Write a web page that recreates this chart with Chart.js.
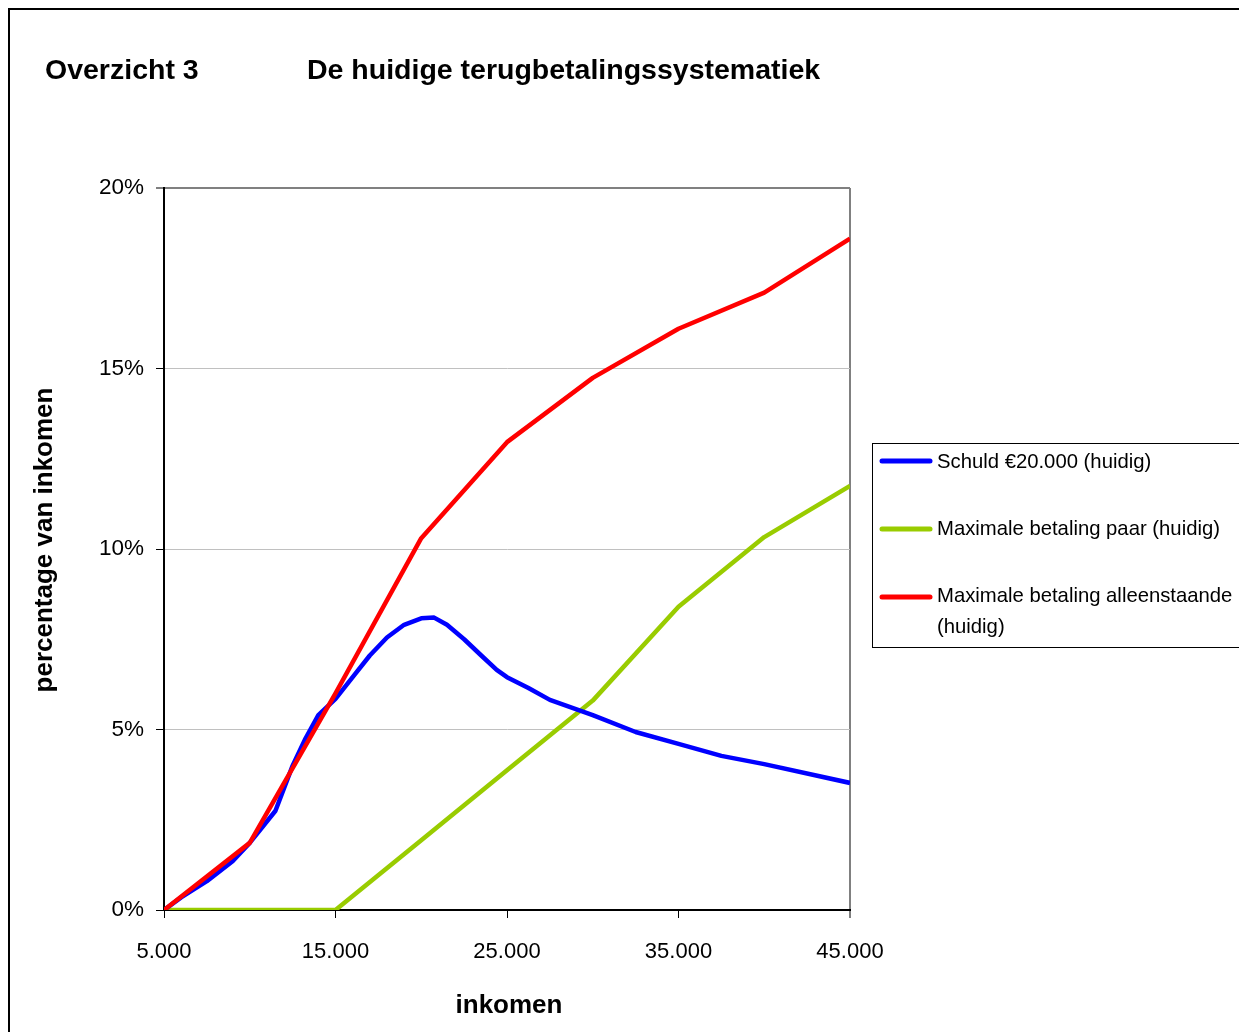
<!DOCTYPE html>
<html lang="nl">
<head>
  <meta charset="UTF-8">
  <title>Overzicht 3</title>
  <script src="https://cdn.jsdelivr.net/npm/chart.js"></script>
  <style>
    body {
      margin: 0;
      background: #fff;
      overflow: hidden;
    }
    canvas {
      display: block;
    }
  </style>
</head>
<body>
  <canvas id="chart" width="1239" height="1032"></canvas>

  <script>
    // inkomen (x) en percentage van inkomen (y) per reeks
    const schuldInkomen = [5000, 6000, 7500, 9000, 10000, 11500, 12500, 13250, 14000, 15000, 16000, 17000, 18000, 19000, 20000, 20750,
      21500, 22500, 23500, 24400, 25000, 26250, 27500, 30000, 32500, 35000, 37500, 40000, 45000];
    const schuldPct = [0, 0.35, 0.8, 1.35, 1.86, 2.75, 4.0, 4.75, 5.4, 5.85, 6.45, 7.05, 7.55, 7.9, 8.08, 8.1,
      7.9, 7.5, 7.05, 6.65, 6.45, 6.15, 5.82, 5.4, 4.93, 4.6, 4.27, 4.04, 3.52];

    const maxInkomen = [5000, 10000, 15000, 20000, 25000, 30000, 35000, 40000, 45000];
    const paarPct = [0, 0, 0, 1.93, 3.87, 5.8, 8.4, 10.33, 11.75];
    const alleenPct = [0, 1.86, 6.0, 10.3, 12.96, 14.74, 16.1, 17.1, 18.6];

    const seriesLabels = ['Schuld €20.000 (huidig)', 'Maximale betaling paar (huidig)', 'Maximale betaling alleenstaande (huidig)'];
    const seriesColors = ['#0000ff', '#99cc00', '#ff0000'];

    const xTicks = [5000, 15000, 25000, 35000, 45000];
    const yTicks = [0, 5, 10, 15, 20];

    const FONT = "'Liberation Sans', Arial, sans-serif";
    Chart.defaults.font.family = FONT;
    Chart.defaults.color = '#000';

    const toPoints = (xs, ys) => xs.map((x, i) => ({ x: x, y: ys[i] }));
    const fmtThousands = v => String(v).replace(/\B(?=(\d{3})+(?!\d))/g, '.');

    // frame, titles, axis titles and legend
    const decorations = {
      id: 'decorations',
      beforeDraw(chart) {
        const c = chart.ctx;
        c.save();
        c.fillStyle = '#fff';
        c.fillRect(0, 0, chart.width, chart.height);
        c.strokeStyle = '#000';
        c.lineWidth = 2;
        c.strokeRect(9, 9, 1400, 1200);
        c.restore();
      },
      afterDraw(chart) {
        const c = chart.ctx;
        c.save();
        c.fillStyle = '#000';
        c.textBaseline = 'middle';

        c.font = 'bold 28.5px ' + FONT;
        c.textAlign = 'left';
        c.fillText('Overzicht 3', 45, 71);
        c.fillText('De huidige terugbetalingssystematiek', 307, 71);

        c.font = 'bold 26px ' + FONT;
        c.textAlign = 'center';
        c.fillText('inkomen', 509, 1006);
        c.save();
        c.translate(45, 540);
        c.rotate(-Math.PI / 2);
        c.fillText('percentage van inkomen', 0, 0);
        c.restore();

        // legend box
        c.strokeStyle = '#000';
        c.lineWidth = 1;
        c.strokeRect(872.5, 443.5, 500, 204);
        c.font = '20.3px ' + FONT;
        c.textAlign = 'left';
        const rows = [461, 529, 597];
        rows.forEach((y, i) => {
          c.strokeStyle = seriesColors[i];
          c.lineWidth = 5;
          c.lineCap = 'round';
          c.beginPath();
          c.moveTo(882, y);
          c.lineTo(930, y);
          c.stroke();
        });
        c.fillText(seriesLabels[0], 937, 462);
        c.fillText(seriesLabels[1], 937, 529);
        c.fillText('Maximale betaling alleenstaande', 937, 596);
        c.fillText('(huidig)', 937, 627);
        c.restore();
      }
    };

    const ctx = document.getElementById('chart').getContext('2d');
    new Chart(ctx, {
      type: 'line',
      data: {
        datasets: [
          {
            label: seriesLabels[0],
            data: toPoints(schuldInkomen, schuldPct),
            borderColor: seriesColors[0],
            order: 1
          },
          {
            label: seriesLabels[1],
            data: toPoints(maxInkomen, paarPct),
            borderColor: seriesColors[1],
            order: 2
          },
          {
            label: seriesLabels[2],
            data: toPoints(maxInkomen, alleenPct),
            borderColor: seriesColors[2],
            order: 0
          }
        ]
      },
      options: {
        responsive: false,
        animation: false,
        layout: { padding: { top: 188, right: 389, left: 0, bottom: 0 } },
        elements: {
          line: { borderWidth: 4.5, tension: 0, fill: false, borderJoinStyle: 'round', borderCapStyle: 'butt' },
          point: { radius: 0 }
        },
        plugins: {
          legend: { display: false },
          tooltip: { enabled: false }
        },
        scales: {
          x: {
            type: 'linear',
            min: 5000,
            max: 45000,
            afterFit: s => { s.height = 122; },
            afterBuildTicks: s => { s.ticks = xTicks.map(v => ({ value: v })); },
            ticks: {
              padding: 21,
              font: { size: 22 },
              maxRotation: 0,
              callback: v => fmtThousands(v)
            },
            grid: {
              drawOnChartArea: true,
              tickLength: 8,
              tickColor: '#000',
              tickWidth: 1,
              color: c => c.tick && c.tick.value === 45000 ? '#808080' : 'rgba(0,0,0,0)',
              lineWidth: c => c.tick && c.tick.value === 45000 ? 2 : 1
            },
            border: { color: '#000', width: 2 }
          },
          y: {
            min: 0,
            max: 20,
            afterFit: s => { s.width = 164; },
            afterBuildTicks: s => { s.ticks = yTicks.map(v => ({ value: v })); },
            ticks: {
              padding: 12,
              font: { size: 22.5 },
              callback: v => v + '%'
            },
            grid: {
              tickLength: 8,
              tickColor: '#000',
              tickWidth: 1,
              color: c => {
                if (!c.tick) return '#c0c0c0';
                if (c.tick.value === 20) return '#808080';
                if (c.tick.value === 0) return 'rgba(0,0,0,0)';
                return '#c0c0c0';
              },
              lineWidth: c => c.tick && c.tick.value === 20 ? 2 : 1
            },
            border: { color: '#000', width: 2 }
          }
        }
      },
      plugins: [decorations]
    });
  </script>
</body>
</html>
